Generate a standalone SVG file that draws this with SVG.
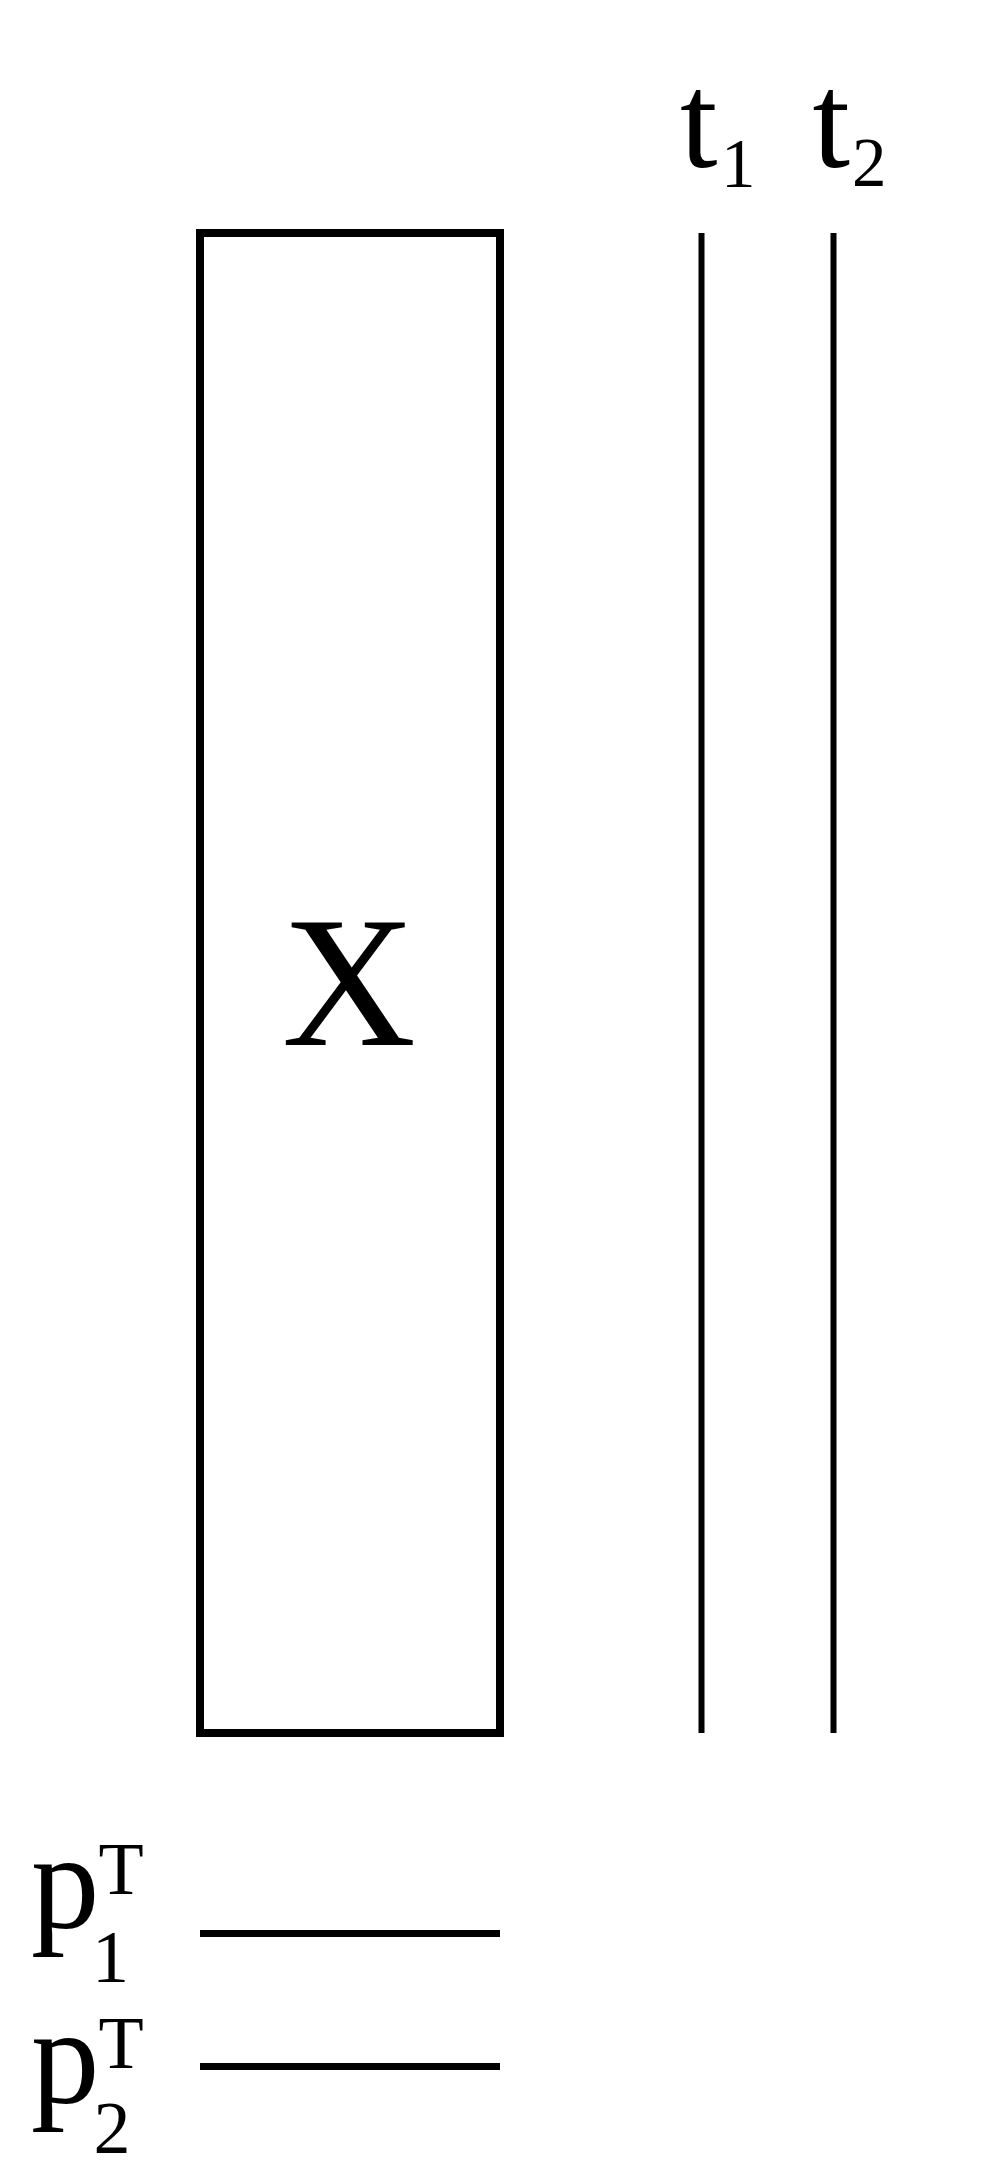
<svg xmlns="http://www.w3.org/2000/svg" width="1000" height="2167" viewBox="0 0 1000 2167">
<style>
text{font-family:"Liberation Serif","Times New Roman",serif;fill:#000}
.ln{stroke:#000;fill:none}
</style>
<rect x="0" y="0" width="1000" height="2167" fill="#fff"/>
<g id="X">
<rect class="ln" x="200" y="233" width="300" height="1500" stroke-width="8"/>
<text x="349" y="1045" font-size="186" text-anchor="middle">X</text>
</g>
<g id="t1">
<line class="ln" x1="701.5" y1="233" x2="701.5" y2="1733" stroke-width="6"/>
<text x="680" y="166.5" font-size="135">t</text>
<text x="721" y="186.5" font-size="69">1</text>
</g>
<g id="t2">
<line class="ln" x1="833.5" y1="233" x2="833.5" y2="1733" stroke-width="6"/>
<text x="812.5" y="166.5" font-size="135">t</text>
<text x="852" y="186" font-size="69">2</text>
</g>
<g id="p1">
<line class="ln" x1="200" y1="1933.5" x2="500" y2="1933.5" stroke-width="7"/>
<text x="31" y="1928" font-size="137">p</text>
<text x="98.5" y="1894" font-size="74">T</text>
<text x="92" y="1981.5" font-size="74">1</text>
</g>
<g id="p2">
<line class="ln" x1="200" y1="2066.5" x2="500" y2="2066.5" stroke-width="7"/>
<text x="31" y="2103" font-size="137">p</text>
<text x="98.5" y="2068" font-size="74">T</text>
<text x="93.5" y="2153" font-size="74">2</text>
</g>
</svg>
